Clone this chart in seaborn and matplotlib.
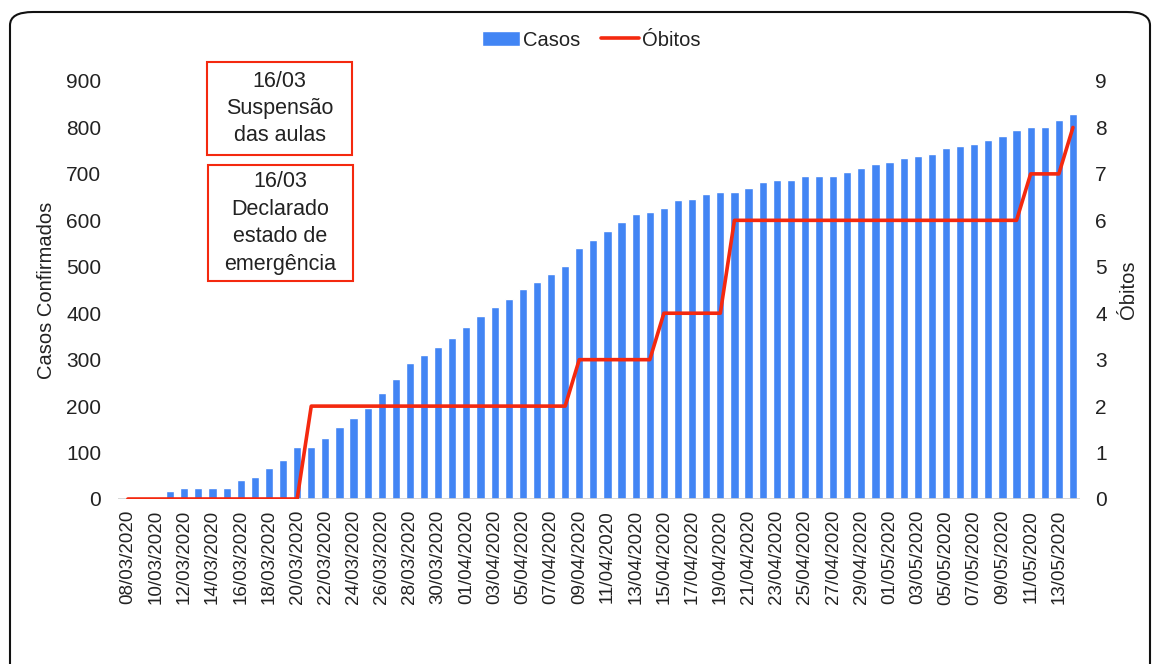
import pandas as pd
import numpy as np
import matplotlib
matplotlib.use("Agg")
import matplotlib.pyplot as plt
from matplotlib.patches import FancyBboxPatch, Rectangle
import seaborn as sns

# Set plot style
sns.set_theme(style="white")
plt.rcParams['font.family'] = ['Liberation Sans', 'DejaVu Sans']

# -----------------------------
# Data
# -----------------------------
datas = pd.date_range('2020-03-08', '2020-05-14').strftime('%d/%m/%Y').tolist()

casos = [0, 5, 5, 18, 23, 23, 23, 23, 41, 48, 66, 83, 113, 113, 131, 156, 174,
         195, 229, 259, 293, 311, 328, 346, 371, 393, 414, 431, 453, 467, 484,
         501, 540, 557, 578, 596, 613, 617, 626, 643, 647, 656, 660, 660, 669,
         682, 686, 686, 695, 695, 695, 703, 712, 721, 725, 734, 738, 742, 755,
         760, 764, 772, 781, 794, 802, 802, 815, 828]

obitos = [0, 0, 0, 0, 0, 0, 0, 0, 0, 0, 0, 0, 0,
          2, 2, 2, 2, 2, 2, 2, 2, 2, 2, 2, 2, 2, 2, 2, 2, 2, 2, 2,
          3, 3, 3, 3, 3, 3,
          4, 4, 4, 4, 4,
          6, 6, 6, 6, 6, 6, 6, 6, 6, 6, 6, 6, 6, 6, 6, 6, 6, 6, 6, 6, 6,
          7, 7, 7,
          8]

notas = ["16/03\nSuspensão\ndas aulas", "16/03\nDeclarado\nestado de\nemergência"]

df = pd.DataFrame({'Data': datas, 'Casos': casos, 'Obitos': obitos})
df['pos'] = np.arange(len(df))

azul = '#4285f4'
vermelho = '#f4290f'
texto = '#222222'

# -----------------------------
# Figure
# -----------------------------
fig = plt.figure(figsize=(11.55, 6.64), dpi=100)
ax = fig.add_axes([118 / 1155, 1 - 499 / 664, 962 / 1155, 418 / 664])

# rounded outer frame
frame = FancyBboxPatch((10 / 1155, -0.1), 1140 / 1155, 1.1 - 12 / 664,
                       boxstyle="round,pad=0,rounding_size=0.02",
                       transform=fig.transFigure, fill=False,
                       edgecolor='#111111', linewidth=1.5, zorder=0)
fig.patches.append(frame)

sns.barplot(data=df, x='Data', y='Casos', color=azul, saturation=1,
            width=0.58, ax=ax, label='Casos')
ax.set_ylim(0, 900)
ax.set_xlim(-0.7, 67.5)
ax.set_yticks(range(0, 901, 100))
ax.set_xticks(df['pos'][::2])
ax.set_xticklabels(df['Data'][::2], rotation=90)
ax.tick_params(axis='x', labelsize=13.5, pad=8, colors=texto, length=0)
ax.tick_params(axis='y', labelsize=15, pad=12, colors=texto, length=0)
ax.set_xlabel('')
ax.set_ylabel('Casos Confirmados', fontsize=14.5, color=texto)
ax.yaxis.set_label_coords(-0.064, 0.5)
ax.axhline(0, color='#d0d0d0', linewidth=1.2, zorder=1)
for s in ax.spines.values():
    s.set_visible(False)

ax2 = ax.twinx()
sns.lineplot(data=df, x='pos', y='Obitos', color=vermelho, linewidth=2.6,
             ax=ax2, label='Óbitos')
ax2.set_ylim(0, 9)
ax2.set_yticks(range(0, 10))
ax2.tick_params(axis='y', labelsize=15, pad=11, colors=texto, length=0)
ax2.set_ylabel('Óbitos', fontsize=14.5, color=texto)
ax2.yaxis.set_label_coords(1.041, 0.5)
for s in ax2.spines.values():
    s.set_visible(False)
ax2.get_legend().remove()

# legend on top
h1, l1 = ax.get_legend_handles_labels()
h2, l2 = ax2.get_legend_handles_labels()
if ax.get_legend() is not None:
    ax.get_legend().remove()
fig.legend(h1 + h2, l1 + l2, loc='center', bbox_to_anchor=(0.512, 1 - 40 / 664),
           ncol=2, frameon=False, fontsize=14.5, handlelength=1.9,
           handletextpad=0.15, columnspacing=1.0, labelcolor=texto)

# annotation boxes
caixas = [(207, 62, 145, 93), (208, 165, 145, 116)]
for nota, (x0, y0, w, h) in zip(notas, caixas):
    fig.patches.append(Rectangle((x0 / 1155, 1 - (y0 + h) / 664), w / 1155, h / 664,
                                 transform=fig.transFigure, facecolor='white',
                                 edgecolor=vermelho, linewidth=1.5, zorder=5))
    fig.text((x0 + w / 2) / 1155, 1 - (y0 + h / 2) / 664, nota, ha='center',
             va='center', fontsize=15.5, color=texto, linespacing=1.4, zorder=6)

plt.savefig('out.png', dpi=100)
